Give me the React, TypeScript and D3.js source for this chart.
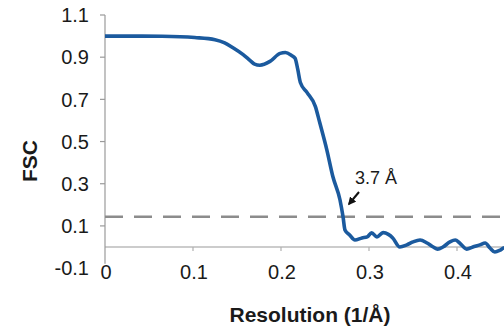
import * as d3 from "d3";
import { useEffect, useRef } from "react";

// resolution (1/Å) and FSC values
const resolution = [
  0, 0.03, 0.065, 0.102, 0.125, 0.136, 0.145, 0.157, 0.165, 0.17, 0.176, 0.1875,
  0.199, 0.205, 0.212, 0.216, 0.219, 0.222, 0.2295, 0.239, 0.244, 0.252, 0.259,
  0.267, 0.2705, 0.2727, 0.278, 0.284, 0.292, 0.298, 0.303, 0.309, 0.316, 0.322,
  0.327, 0.335, 0.343, 0.35, 0.358, 0.366, 0.373, 0.378, 0.384, 0.392, 0.398,
  0.403, 0.411, 0.418, 0.426, 0.432, 0.4375, 0.443, 0.449, 0.453, 0.46,
];
const fsc = [
  1.0, 1.0, 0.999, 0.993, 0.983, 0.968, 0.946, 0.912, 0.884, 0.867, 0.862, 0.88,
  0.918, 0.922, 0.908, 0.895, 0.843, 0.78, 0.733, 0.667, 0.59, 0.462, 0.333,
  0.224, 0.143, 0.081, 0.057, 0.033, 0.043, 0.048, 0.067, 0.048, 0.068, 0.06,
  0.043, 0.0, 0.01, 0.024, 0.033, 0.019, 0.0, -0.01, 0.0, 0.024, 0.033, 0.019,
  -0.01, 0.0, 0.01, 0.019, -0.005, -0.024, -0.015, -0.005, 0.0,
];
const yTicks = [-0.1, 0.1, 0.3, 0.5, 0.7, 0.9, 1.1];
const xTicks = [0, 0.1, 0.2, 0.3, 0.4];
const threshold = 0.143;
const thresholdLabel = "3.7 Å";

const W = 504;
const H = 329;
const font = "'Liberation Sans', Arial, Helvetica, sans-serif";

export default function App() {
  const ref = useRef<SVGSVGElement>(null);

  useEffect(() => {
    if (!ref.current) return;
    const svg = d3.select(ref.current);
    svg.selectAll("*").remove();

    const x = d3.scaleLinear().domain([0, 0.5]).range([105, 545]);
    const y = d3.scaleLinear().domain([0, 1.1]).range([247, 15]);

    svg.append("rect").attr("width", W).attr("height", H).attr("fill", "#fff");

    // y axis
    svg.append("line")
      .attr("x1", x(0)).attr("x2", x(0))
      .attr("y1", y(1.1)).attr("y2", y(-0.08))
      .attr("stroke", "#9a9a9a").attr("stroke-width", 1.2);
    svg.selectAll(".ytick")
      .data(yTicks.filter((t) => t > 0))
      .join("line")
      .attr("x1", x(0) - 5).attr("x2", x(0))
      .attr("y1", (d) => y(d)).attr("y2", (d) => y(d))
      .attr("stroke", "#9a9a9a").attr("stroke-width", 1.2);
    svg.selectAll(".ylab")
      .data(yTicks)
      .join("text")
      .attr("x", 89)
      .attr("y", (d) => y(d))
      .attr("dy", "0.36em")
      .attr("text-anchor", "end")
      .style("font-family", font)
      .style("font-size", "20px")
      .style("fill", "#1a1a1a")
      .text((d) => d.toFixed(1));

    // x axis at zero
    svg.append("line")
      .attr("x1", x(0)).attr("x2", W)
      .attr("y1", y(0)).attr("y2", y(0))
      .attr("stroke", "#9a9a9a").attr("stroke-width", 1.2);
    svg.selectAll(".xtick")
      .data(xTicks.slice(1))
      .join("line")
      .attr("x1", (d) => x(d)).attr("x2", (d) => x(d))
      .attr("y1", y(0)).attr("y2", y(0) + 4)
      .attr("stroke", "#b0b0b0").attr("stroke-width", 1.2);
    svg.selectAll(".xlab")
      .data(xTicks)
      .join("text")
      .attr("x", (d) => x(d) + 1)
      .attr("y", 279)
      .attr("text-anchor", "middle")
      .style("font-family", font)
      .style("font-size", "20px")
      .style("fill", "#1a1a1a")
      .text((d) => (d === 0 ? "0" : d.toFixed(1)));

    // 0.143 threshold
    svg.append("line")
      .attr("x1", x(0)).attr("x2", W)
      .attr("y1", y(threshold)).attr("y2", y(threshold))
      .attr("stroke", "#8c8c8c").attr("stroke-width", 2.5)
      .attr("stroke-dasharray", "18,11");

    // FSC curve
    const pts = resolution.map((r, i) => [r, fsc[i]] as [number, number]);
    const line = d3.line<[number, number]>()
      .x((d) => x(d[0]))
      .y((d) => y(d[1]))
      .curve(d3.curveMonotoneX);
    svg.append("path")
      .attr("d", line(pts))
      .attr("fill", "none")
      .attr("stroke", "#1b5a9e")
      .attr("stroke-width", 3.6)
      .attr("stroke-linejoin", "round");

    // annotation
    const defs = svg.append("defs");
    defs.append("marker")
      .attr("id", "arr")
      .attr("viewBox", "0 0 10 10")
      .attr("refX", 8).attr("refY", 5)
      .attr("markerWidth", 4).attr("markerHeight", 4)
      .attr("orient", "auto")
      .append("path").attr("d", "M0,0L10,5L0,10z").attr("fill", "#111");
    svg.append("line")
      .attr("x1", 359).attr("y1", 192)
      .attr("x2", 349).attr("y2", 204)
      .attr("stroke", "#111").attr("stroke-width", 2)
      .attr("marker-end", "url(#arr)");
    svg.append("text")
      .attr("x", 355).attr("y", 184)
      .style("font-family", font)
      .style("font-size", "18px")
      .style("fill", "#1a1a1a")
      .text(thresholdLabel);

    // axis titles
    svg.append("text")
      .attr("transform", `translate(37,161) rotate(-90)`)
      .attr("text-anchor", "middle")
      .style("font-family", font)
      .style("font-size", "21px")
      .style("font-weight", "700")
      .style("fill", "#1a1a1a")
      .text("FSC");
    svg.append("text")
      .attr("x", 310).attr("y", 322)
      .attr("text-anchor", "middle")
      .style("font-family", font)
      .style("font-size", "21px")
      .style("font-weight", "700")
      .style("fill", "#1a1a1a")
      .text("Resolution (1/Å)");
  }, []);

  return (
    <svg
      ref={ref}
      width={W}
      height={H}
      style={{ position: "absolute", left: 0, top: 0, display: "block" }}
    />
  );
}
